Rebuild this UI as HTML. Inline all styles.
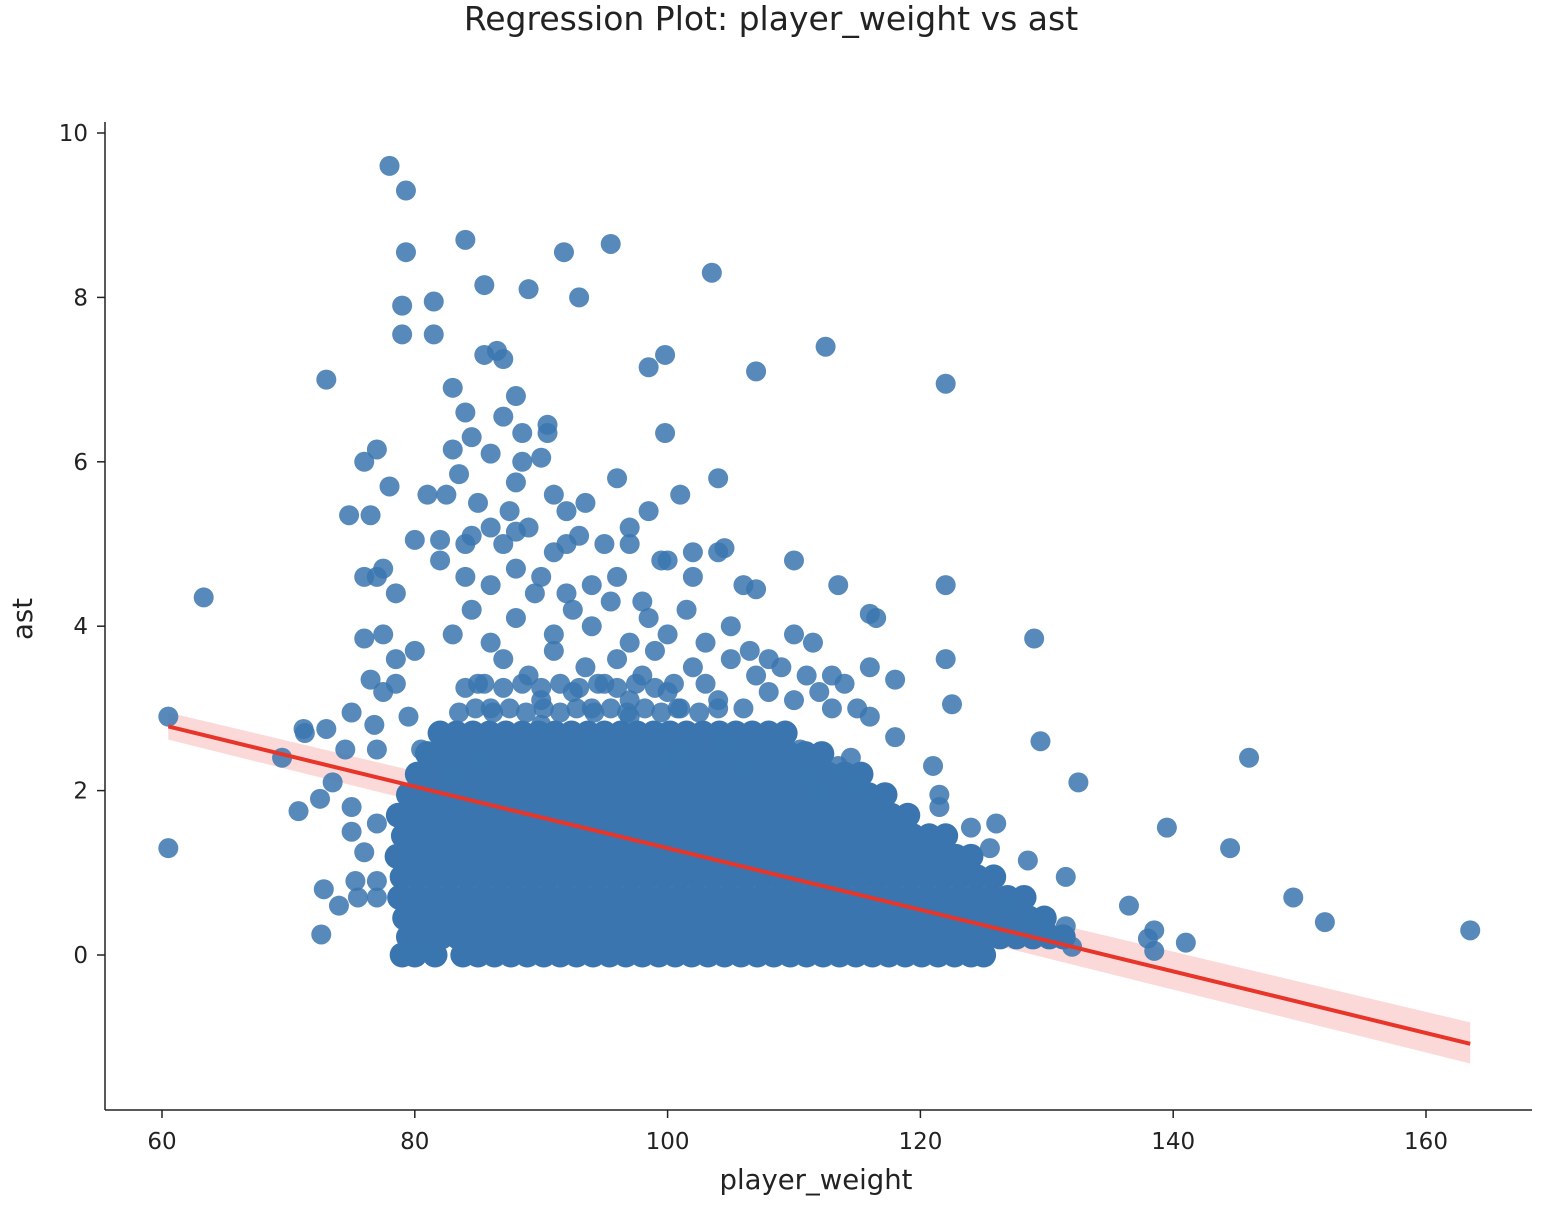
<!DOCTYPE html>
<html><head><meta charset="utf-8"><style>
body{margin:0;background:#fff;}
svg text{font-family:"DejaVu Sans","Liberation Sans",sans-serif;fill:#222;}
</style></head><body>
<svg id="chart" width="1554" height="1212">
<text x="771" y="30" font-size="33" text-anchor="middle">Regression Plot: player_weight vs ast</text>
<g id="band"></g><g id="dots"></g><g id="reg"></g><g id="axes"></g>
</svg>
<script>
const xTicks=[60,80,100,120,140,160];
const yTicks=[0,2,4,6,8,10];
const scatterX=[60.5,60.5,63.3,69.5,70.8,71.2,71.3,72.5,72.6,72.8,73,73,73.5,74,74.5,74.8,75,75,75,75.3,75.5,76,76,76,76,76.5,76.5,76.8,77,77,77,77,77,77,77.5,77.5,77.5,78,78,78.5,78.5,79,79,79.3,79.3,79,80,80,80,81,81.5,81.5,81.5,82,82,82.5,83,83,83.5,84,84,84,84.5,85,85.5,85.5,86,86,86.5,87,87,87.5,88,88,88,88.5,88.5,89,90,90.5,90.5,91,91.8,92,92,93,93.5,95.5,96,97,98.5,98.5,99.8,99.8,101,103.5,104,104.5,107,107,110,112.5,113.5,116,122,122,122,122.5,118,118,116,121,121.5,121.5,129,129.5,132.5,131.5,136.5,138,138.5,138.5,139.5,141,144.5,146,149.5,152,163.5,128.5,126,124,125.5,127,129,130,131.5,132,
85,86,87,89,90,91,92.5,93.5,94,95,96,97,98,99,100,101,102,103,104,105,106,107,108,109,110,111,112,113,114,115,116,
83,84.5,86,88,89.5,91,92.5,94,95.5,97,98.5,100,101.5,103,105,106.5,108,110,111.5,113,116.5,
84,86,88,90,92,94,96,98,100,102,104,106,
84.5,87,89,91,93,95,97,99.5,102,
78.5,79.5,80.5,83,85,90,94,97,99.5,100,101,104.5,106,110.5,111,112,113.5,115,114.5,
83.5,84.8,86.2,87.5,88.8,90.2,91.5,92.8,94.2,95.5,96.8,98.2,99.5,100.8,102.5,104,
84,85.5,87,88.5,90,91.5,93,94.5,96,97.5,99,100.5];
const scatterY=[2.9,1.3,4.35,2.4,1.75,2.75,2.7,1.9,0.25,0.8,7.0,2.75,2.1,0.6,2.5,5.35,2.95,1.8,1.5,0.9,0.7,6.0,4.6,3.85,1.25,5.35,3.35,2.8,6.15,4.6,2.5,1.6,0.9,0.7,4.7,3.9,3.2,9.6,5.7,4.4,3.3,7.9,7.55,9.3,8.55,0,0,5.05,3.7,5.6,7.95,7.55,0,5.05,4.8,5.6,6.15,6.9,5.85,8.7,6.6,5.0,6.3,5.5,8.15,7.3,6.1,5.2,7.35,7.25,6.55,5.4,6.8,5.75,5.15,6.0,6.35,8.1,6.05,6.45,6.35,5.6,8.55,5.4,5.0,8.0,5.5,8.65,5.8,5.0,7.15,5.4,7.3,6.35,5.6,8.3,5.8,4.95,7.1,4.45,4.8,7.4,4.5,4.15,6.95,4.5,3.6,3.05,3.35,2.65,3.5,2.3,1.95,1.8,3.85,2.6,2.1,0.95,0.6,0.2,0.3,0.05,1.55,0.15,1.3,2.4,0.7,0.4,0.3,1.15,1.6,1.55,1.3,0.6,0.45,0.3,0.35,0.1,
3.3,3.0,3.6,3.4,3.1,3.7,3.2,3.5,3.0,3.3,3.6,3.1,3.4,3.7,3.2,3.0,3.5,3.3,3.1,3.6,3.0,3.4,3.2,3.5,3.1,3.4,3.2,3.0,3.3,3.0,2.9,
3.9,4.2,3.8,4.1,4.4,3.9,4.2,4.0,4.3,3.8,4.1,3.9,4.2,3.8,4.0,3.7,3.6,3.9,3.8,3.4,4.1,
4.6,4.5,4.7,4.6,4.4,4.5,4.6,4.3,4.8,4.6,4.9,4.5,
5.1,5.0,5.2,4.9,5.1,5.0,5.2,4.8,4.9,
3.6,2.9,2.5,2.2,2.4,2.8,2.6,2.9,2.7,2.4,2.5,2.6,2.3,2.5,2.2,2.0,2.3,2.1,2.4,
2.95,3.0,2.95,3.0,2.95,3.0,2.95,3.0,2.95,3.0,2.95,3.0,2.95,3.0,2.95,3.0,
3.25,3.3,3.25,3.3,3.25,3.3,3.25,3.3,3.25,3.3,3.25,3.3];
const coreY=[0,0.22,0.45,0.7,0.95,1.2,1.45,1.7,1.95,2.2,2.45,2.7];
const coreX=[
[79,80,81.6,83.8,85,86.3,87.6,88.9,90.2,91.5,92.8,94.1,95.4,96.7,98,99.3,100.6,101.9,103.2,104.5,105.8,107.1,108.4,109.7,111,112.3,113.6,114.9,116.2,117.5,118.8,120.1,121.4,122.7,124,125],
[79.5,80.8,82.1,83.4,84.7,86,87.3,88.6,89.9,91.2,92.5,93.8,95.1,96.4,97.7,99,100.3,101.6,102.9,104.2,105.5,106.8,108.1,109.4,110.7,112,113.3,114.6,115.9,117.2,118.5,119.8,121.1,122.4,123.7,125,126.3,127.6,128.9,130.2,131.3],
[79.2,80.5,81.8,83.1,84.4,85.7,87,88.3,89.6,90.9,92.2,93.5,94.8,96.1,97.4,98.7,100,101.3,102.6,103.9,105.2,106.5,107.8,109.1,110.4,111.7,113,114.3,115.6,116.9,118.2,119.5,120.8,122.1,123.4,124.7,126,127.3,128.6,129.8],
[78.8,80.1,81.4,82.7,84,85.3,86.6,87.9,89.2,90.5,91.8,93.1,94.4,95.7,97,98.3,99.6,100.9,102.2,103.5,104.8,106.1,107.4,108.7,110,111.3,112.6,113.9,115.2,116.5,117.8,119.1,120.4,121.7,123,124.3,125.6,126.9,128.2],
[79,80.3,81.6,82.9,84.2,85.5,86.8,88.1,89.4,90.7,92,93.3,94.6,95.9,97.2,98.5,99.8,101.1,102.4,103.7,105,106.3,107.6,108.9,110.2,111.5,112.8,114.1,115.4,116.7,118,119.3,120.6,121.9,123.2,124.5,125.8],
[78.6,79.9,81.2,82.5,83.8,85.1,86.4,87.7,89,90.3,91.6,92.9,94.2,95.5,96.8,98.1,99.4,100.7,102,103.3,104.6,105.9,107.2,108.5,109.8,111.1,112.4,113.7,115,116.3,117.6,118.9,120.2,121.5,122.8,124],
[79.1,80.4,81.7,83,84.3,85.6,86.9,88.2,89.5,90.8,92.1,93.4,94.7,96,97.3,98.6,99.9,101.2,102.5,103.8,105.1,106.4,107.7,109,110.3,111.6,112.9,114.2,115.5,116.8,118.1,119.4,120.7,122],
[78.7,80,81.3,82.6,83.9,85.2,86.5,87.8,89.1,90.4,91.7,93,94.3,95.6,96.9,98.2,99.5,100.8,102.1,103.4,104.7,106,107.3,108.6,109.9,111.2,112.5,113.8,115.1,116.4,117.7,119],
[79.5,80.8,82.1,83.4,84.7,86,87.3,88.6,89.9,91.2,92.5,93.8,95.1,96.4,97.7,99,100.3,101.6,102.9,104.2,105.5,106.8,108.1,109.4,110.7,112,113.3,114.6,115.9,117.2],
[80.2,81.5,82.8,84.1,85.4,86.7,88,89.3,90.6,91.9,93.2,94.5,95.8,97.1,98.4,99.7,101,102.3,103.6,104.9,106.2,107.5,108.8,110.1,111.4,112.7,114,115.3],
[81,82.3,83.6,84.9,86.2,87.5,88.8,90.1,91.4,92.7,94,95.3,96.6,97.9,99.2,100.5,101.8,103.1,104.4,105.7,107,108.3,109.6,110.9,112.2],
[82,83.3,84.6,85.9,87.2,88.5,89.8,91.1,92.4,93.7,95,96.3,97.6,98.9,100.2,101.5,102.8,104.1,105.4,106.7,108,109.3]
];
const regX=[60.5,163.5];
const regY=[2.78,-1.08];
const bandLo=[2.62,-1.32];
const bandHi=[2.95,-0.82];
const sx=v=>162+(v-60)*12.64;
const sy=v=>955-v*82.2;
const NS='http://www.w3.org/2000/svg';
function mk(t,a,p){const e=document.createElementNS(NS,t);for(const k in a)e.setAttribute(k,a[k]);p.appendChild(e);return e;}
const dots=document.getElementById('dots');
function dot(x,y,r,op){const c=mk('circle',{cx:sx(x),cy:sy(y),r:r,fill:'#3a75af','fill-opacity':op},dots);

}
coreY.forEach((y,i)=>coreX[i].forEach(x=>dot(x,y,12.5,1)));
scatterX.forEach((x,i)=>dot(x,scatterY[i],10,0.85));
const band=mk('polygon',{points:`${sx(regX[0])},${sy(bandHi[0])} ${sx(regX[1])},${sy(bandHi[1])} ${sx(regX[1])},${sy(bandLo[1])} ${sx(regX[0])},${sy(bandLo[0])}`,fill:'#e8413a','fill-opacity':0.2},document.getElementById('band'));


const ln=mk('line',{x1:sx(regX[0]),y1:sy(regY[0]),x2:sx(regX[1]),y2:sy(regY[1]),stroke:'#e8352a','stroke-width':4},document.getElementById('reg'));


const ax=document.getElementById('axes');
const ya=mk('line',{x1:105,y1:122,x2:105,y2:1110,stroke:'#222','stroke-width':1.5},ax);


const xa=mk('line',{x1:105,y1:1110,x2:1532,y2:1110,stroke:'#222','stroke-width':1.5},ax);


xTicks.forEach(v=>{mk('line',{x1:sx(v),y1:1110,x2:sx(v),y2:1118,stroke:'#222','stroke-width':1.5},ax);
const t=mk('text',{x:sx(v),y:1149,'font-size':23,'text-anchor':'middle'},ax);t.textContent=v;

});
yTicks.forEach(v=>{mk('line',{x1:97,y1:sy(v),x2:105,y2:sy(v),stroke:'#222','stroke-width':1.5},ax);
const t=mk('text',{x:88,y:sy(v)+8,'font-size':23,'text-anchor':'end'},ax);t.textContent=v;

});
const xt=mk('text',{x:816,y:1189,'font-size':27.5,'text-anchor':'middle'},ax);xt.textContent='player_weight';


const yt=mk('text',{x:32,y:619,'font-size':27.5,'text-anchor':'middle',transform:'rotate(-90 32 619)'},ax);yt.textContent='ast';


</script>
</body></html>
